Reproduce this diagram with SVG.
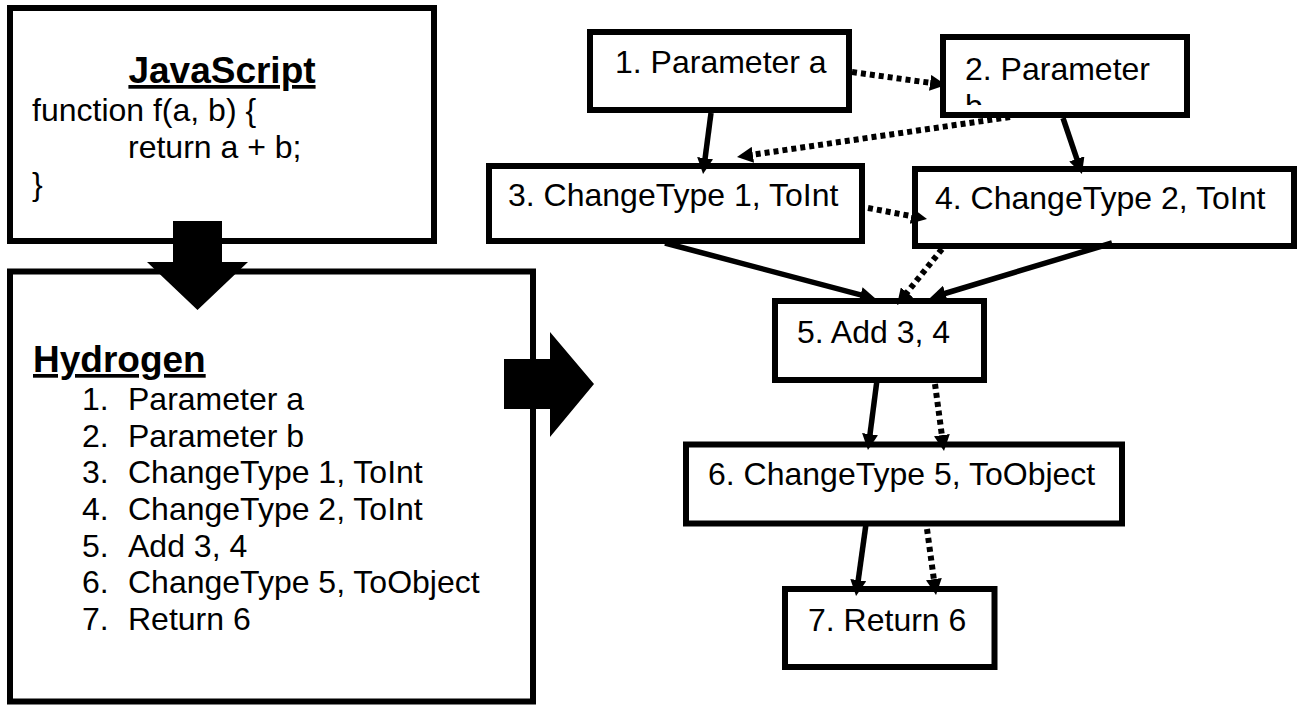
<svg xmlns="http://www.w3.org/2000/svg" width="1307" height="706" viewBox="0 0 1307 706">
  <style>
    .box { fill: #ffffff; stroke: #000000; stroke-width: 6; }
    .txt { font-family: "Liberation Sans", Arial, sans-serif; font-size: 32px; fill: #000000; }
    .title { font-family: "Liberation Sans", Arial, sans-serif; font-size: 37px; font-weight: bold; fill: #000000; text-decoration: underline; }
    .big { fill: #000000; stroke: none; }
    .solid { stroke: #000000; stroke-width: 5.5; fill: none; marker-end: url(#head); }
    .dotted { stroke: #000000; stroke-width: 6; fill: none; stroke-dasharray: 5 4; marker-end: url(#head); }
  </style>
  <defs>
    <marker id="head" markerUnits="userSpaceOnUse" markerWidth="16" markerHeight="16" refX="4" refY="8" orient="auto">
      <path d="M0,0 L16,8 L0,16 Z" fill="#000000"/>
    </marker>
    <clipPath id="clip-n2">
      <rect x="946" y="40" width="238" height="65"/>
    </clipPath>
  </defs>
  <rect width="1307" height="706" fill="#ffffff"/>

  <!-- Source code panel -->
  <g id="javascript">
    <rect class="box" x="10" y="8" width="424" height="233"/>
    <text class="title" x="222" y="83" text-anchor="middle">JavaScript</text>
    <text class="txt" x="32" y="121">function f(a, b) {</text>
    <text class="txt" x="128" y="158">return a + b;</text>
    <text class="txt" x="32" y="195">}</text>
  </g>

  <!-- Hydrogen instruction listing -->
  <g id="hydrogen">
    <rect class="box" x="10" y="271.5" width="523" height="430"/>
    <text class="title" x="33" y="372">Hydrogen</text>
    <text class="txt" x="82" y="410">1.</text><text class="txt" x="128" y="410">Parameter a</text>
    <text class="txt" x="82" y="446.7">2.</text><text class="txt" x="128" y="446.7">Parameter b</text>
    <text class="txt" x="82" y="483.3">3.</text><text class="txt" x="128" y="483.3">ChangeType 1, ToInt</text>
    <text class="txt" x="82" y="520">4.</text><text class="txt" x="128" y="520">ChangeType 2, ToInt</text>
    <text class="txt" x="82" y="556.7">5.</text><text class="txt" x="128" y="556.7">Add 3, 4</text>
    <text class="txt" x="82" y="593.3">6.</text><text class="txt" x="128" y="593.3">ChangeType 5, ToObject</text>
    <text class="txt" x="82" y="630">7.</text><text class="txt" x="128" y="630">Return 6</text>
  </g>

  <!-- Block arrows between panels -->
  <g id="arrow-down">
    <polygon class="big" points="173,221 222,221 222,262 248,262 197.5,310 147,262 173,262"/>
  </g>
  <g id="arrow-right">
    <polygon class="big" points="504,359 550,359 550,332 594,384 550,437 550,409 504,409"/>
  </g>

  <!-- Graph nodes -->
  <g id="n1">
    <rect class="box" x="590" y="32" width="259" height="78"/>
    <text class="txt" x="615" y="73">1. Parameter a</text>
  </g>
  <g id="n2">
    <rect class="box" x="943" y="37" width="244" height="78"/>
    <g clip-path="url(#clip-n2)">
      <text class="txt" x="965" y="80">2. Parameter</text>
      <text class="txt" x="965" y="117">b</text>
    </g>
  </g>
  <g id="n3">
    <rect class="box" x="489" y="166" width="373" height="75"/>
    <text class="txt" x="508" y="206">3. ChangeType 1, ToInt</text>
  </g>
  <g id="n4">
    <rect class="box" x="915" y="169" width="379" height="77"/>
    <text class="txt" x="935" y="209">4. ChangeType 2, ToInt</text>
  </g>
  <g id="n5">
    <rect class="box" x="775" y="301" width="209" height="79"/>
    <text class="txt" x="797" y="343">5. Add 3, 4</text>
  </g>
  <g id="n6">
    <rect class="box" x="686" y="444.5" width="436" height="79"/>
    <text class="txt" x="708" y="485">6. ChangeType 5, ToObject</text>
  </g>
  <g id="n7">
    <rect class="box" x="785" y="589" width="209.5" height="78"/>
    <text class="txt" x="808" y="631">7. Return 6</text>
  </g>

  <!-- Data (solid) and control (dotted) edges -->
  <g id="connectors">
    <line class="solid" x1="711" y1="113" x2="704.6" y2="162.1"/>
    <line class="solid" x1="1063" y1="118" x2="1078.1" y2="162.6"/>
    <line class="dotted" x1="852" y1="72" x2="934.1" y2="83.4"/>
    <line class="dotted" x1="1010" y1="117" x2="748.9" y2="155.3"/>
    <line class="dotted" x1="868" y1="208" x2="915.2" y2="216.8"/>
    <line class="solid" x1="665" y1="243" x2="864.4" y2="295.9"/>
    <line class="solid" x1="1112" y1="243" x2="941.5" y2="294.5"/>
    <line class="dotted" x1="942" y1="249" x2="904.5" y2="295.6"/>
    <line class="solid" x1="877" y1="380" x2="869.5" y2="438.1"/>
    <line class="dotted" x1="935" y1="384" x2="942.4" y2="439.1"/>
    <line class="solid" x1="866" y1="524" x2="857.7" y2="584.1"/>
    <line class="dotted" x1="927" y1="529" x2="934.4" y2="583.1"/>
  </g>
</svg>
